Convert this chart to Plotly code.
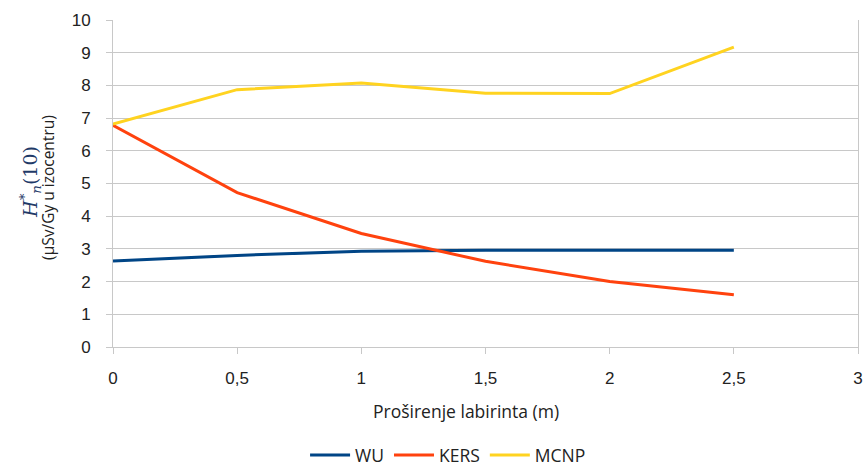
import plotly.graph_objects as go

# Proširenje labirinta (m)
x_vals = [0, 0.5, 1, 1.5, 2, 2.5]
wu = [2.63, 2.80, 2.93, 2.96, 2.96, 2.96]
kers = [6.78, 4.72, 3.47, 2.62, 2.00, 1.60]
mcnp = [6.82, 7.87, 8.07, 7.76, 7.75, 9.17]
x_ticks = [0, 0.5, 1, 1.5, 2, 2.5, 3]
x_ticktext = ["0", "0,5", "1", "1,5", "2", "2,5", "3"]

series = [("WU", wu, "#004586"), ("KERS", kers, "#ff420e"), ("MCNP", mcnp, "#ffd320")]

fig = go.Figure()
for name, vals, color in series:
    fig.add_trace(go.Scatter(x=x_vals, y=vals, name=name, mode="lines",
                             line=dict(color=color, width=3)))

grid = "#c8c8c8"
tick_font = dict(family="Liberation Sans, Arial, sans-serif", size=17, color="#222222")

fig.update_xaxes(
    range=[0, 3], tickmode="array", tickvals=x_ticks, ticktext=x_ticktext,
    showgrid=False, zeroline=False, automargin=False,
    showline=True, linecolor=grid, linewidth=1, mirror=False,
    ticks="outside", ticklen=6, tickcolor=grid, tickfont=tick_font,
    ticklabelstandoff=10,
)
fig.update_yaxes(
    range=[0, 10], dtick=1, showgrid=True, gridcolor=grid, gridwidth=1, zeroline=False,
    showline=True, linecolor=grid, linewidth=1, mirror=True, automargin=False,
    ticks="outside", ticklen=6, tickcolor=grid, tickfont=tick_font,
    ticklabelstandoff=12,
)

fig.add_annotation(
    text="<i>H</i><sup>*</sup><sub><i>n</i></sub>(10)", textangle=-90,
    xref="paper", yref="paper", x=-0.11, y=0.505, xanchor="center", yanchor="middle",
    showarrow=False, font=dict(family="DejaVu Serif, serif", size=19, color="#1f3a68"),
)
fig.add_annotation(
    text="(µSv/Gy u izocentru)", textangle=-90,
    xref="paper", yref="paper", x=-0.087, y=0.487, xanchor="center", yanchor="middle",
    showarrow=False, font=dict(family="Open Sans, sans-serif", size=15.5, color="#222222"),
)
fig.add_annotation(
    text="Proširenje labirinta (m)",
    xref="paper", yref="paper", x=0.474, y=-0.195, xanchor="center", yanchor="middle",
    showarrow=False, font=dict(family="Open Sans, sans-serif", size=17.5, color="#222222"),
)

fig.update_layout(
    width=865, height=473,
    margin=dict(l=113, r=7, t=20, b=126, autoexpand=False),
    plot_bgcolor="white", paper_bgcolor="white",
    showlegend=True,
    legend=dict(orientation="h", x=0.518, xref="container", xanchor="center",
                y=-0.012, yref="container", yanchor="bottom",
                font=dict(family="Open Sans, sans-serif", size=17.5, color="#222222"),
                itemwidth=40, tracegroupgap=0),
)

# page body has a default 8px margin; drop it so the figure sits at the corner
fig.write_html("out.html", config={"displayModeBar": False},
               post_script="document.body.style.margin='0';")
